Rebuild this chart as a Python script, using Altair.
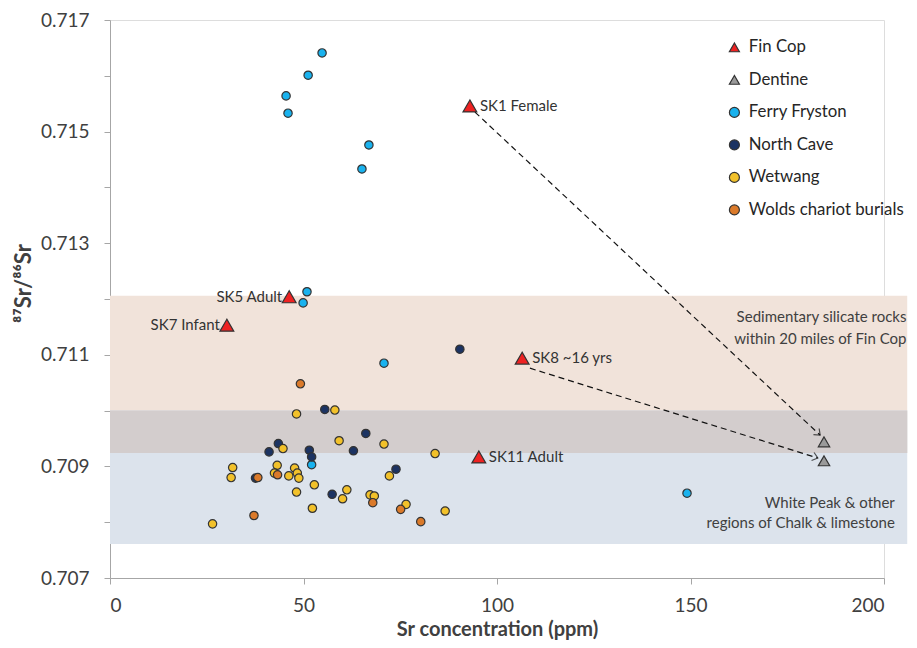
import math
import altair as alt
import pandas as pd

# ---------------- data ----------------
groups = ["Fin Cop", "Dentine", "Ferry Fryston", "North Cave", "Wetwang", "Wolds chariot burials"]
group_colors = ["#ee2222", "#9a9a9a", "#19b2ee", "#1c3362", "#f2c12a", "#db7a2a"]
group_shapes = ["triangle-up", "triangle-up", "circle", "circle", "circle", "circle"]

ferry_x = [54.8, 51.2, 45.5, 46.0, 66.9, 65.1, 50.9, 49.9, 70.8, 149.1, 52.1]
ferry_y = [0.71641, 0.71601, 0.71564, 0.71533, 0.71476, 0.71433, 0.71213, 0.71193, 0.71085, 0.70852, 0.70903]

ncave_x = [90.4, 55.5, 43.5, 41.1, 51.5, 52.1, 57.4, 66.1, 62.9, 73.9, 37.6]
ncave_y = [0.71110, 0.71002, 0.70941, 0.70926, 0.70929, 0.70917, 0.70850, 0.70959, 0.70928, 0.70895, 0.70879]

wet_x = [48.2, 58.1, 59.2, 44.7, 31.7, 31.3, 43.2, 42.5, 47.7, 46.2, 48.4, 48.8, 52.8,
         48.2, 52.3, 26.5, 70.8, 84.0, 72.2, 61.2, 60.1, 67.2, 68.3, 76.5, 86.6]
wet_y = [0.70994, 0.71001, 0.70946, 0.70932, 0.70898, 0.70880, 0.70902, 0.70888, 0.70897,
         0.70883, 0.70888, 0.70879, 0.70867, 0.70854, 0.70825, 0.70797, 0.70940, 0.70923,
         0.70883, 0.70858, 0.70842, 0.70849, 0.70847, 0.70832, 0.70820]

wolds_x = [49.2, 38.2, 43.3, 37.2, 67.9, 75.1, 80.3]
wolds_y = [0.71048, 0.70880, 0.70885, 0.70812, 0.70835, 0.70823, 0.70801]

fincop_names = ["SK1 Female", "SK5 Adult", "SK7 Infant", "SK8 ~16 yrs", "SK11 Adult"]
fincop_x = [93.0, 46.3, 30.2, 106.5, 95.3]
fincop_y = [0.71546, 0.71204, 0.71153, 0.71094, 0.70917]
labels_right = ["SK1 Female", "SK8 ~16 yrs", "SK11 Adult"]

dentine_x = [184.5, 184.5]
dentine_y = [0.70944, 0.70910]

# background bands: name, x range, y range
band_names = ["Sedimentary silicate", "Chalk & limestone", "overlap"]
band_x0 = [0, 0, 0]
band_x1 = [206, 206, 206]
band_y0 = [0.70924, 0.70761, 0.70924]
band_y1 = [0.71206, 0.71000, 0.71000]
band_colors = ["#f1e3da", "#dce3ec", "#d3cdcd"]

band_text = ["Sedimentary silicate rocks", "within 20 miles of Fin Cop",
             "White Peak & other", "regions of Chalk & limestone"]
band_text_x = [205.8, 205.8, 202.8, 202.8]
band_text_y = [0.71168, 0.71128, 0.70835, 0.70799]

# arrows from Fin Cop samples to their dentine values
arrow_x1 = [94.3, 108.5]
arrow_y1 = [0.71535, 0.71076]
arrow_x2 = [183.5, 182.9]
arrow_y2 = [0.70956, 0.70915]

# ---------------- layout ----------------
W, H = 774, 558
XMIN, XMAX = 0, 200
YMIN, YMAX = 0.707, 0.717
FONT = "Lato"
TXT = "#404040"

# ---------------- frames ----------------
rows = []
for g, xs, ys in [("Ferry Fryston", ferry_x, ferry_y), ("North Cave", ncave_x, ncave_y),
                  ("Wetwang", wet_x, wet_y), ("Wolds chariot burials", wolds_x, wolds_y),
                  ("Dentine", dentine_x, dentine_y)]:
    for x, y in zip(xs, ys):
        rows.append({"group": g, "sr": x, "ratio": y, "name": ""})
for n, x, y in zip(fincop_names, fincop_x, fincop_y):
    rows.append({"group": "Fin Cop", "sr": x, "ratio": y, "name": n})
pts = pd.DataFrame(rows)
pts["order"] = range(len(pts))
circ = pts[~pts["group"].isin(["Fin Cop", "Dentine"])]
fin = pts[pts["group"] == "Fin Cop"]
den = pts[pts["group"] == "Dentine"]

bands = pd.DataFrame({"band": band_names, "x0": band_x0, "x1": band_x1,
                      "y0": band_y0, "y1": band_y1})
btext = pd.DataFrame({"text": band_text, "x": band_text_x, "y": band_text_y})

sx = W / (XMAX - XMIN)
sy = H / (YMAX - YMIN)
angles = []
for x1, y1, x2, y2 in zip(arrow_x1, arrow_y1, arrow_x2, arrow_y2):
    a = math.degrees(math.atan2(-(y2 - y1) * sy, (x2 - x1) * sx)) % 360
    angles.append(a)
arrows = pd.DataFrame({"x1": arrow_x1, "y1": arrow_y1, "x2": arrow_x2, "y2": arrow_y2,
                       "angle": angles})

xscale = alt.Scale(domain=[XMIN, XMAX], nice=False, zero=False)
yscale = alt.Scale(domain=[YMIN, YMAX], nice=False, zero=False)

ytick_vals = [round(0.707 + 0.001 * i, 3) for i in range(11)]

xaxis = alt.Axis(values=[0, 50, 100, 150, 200], grid=False, title="Sr concentration (ppm)",
                 domainColor="#a6a6a6", tickColor="#a6a6a6", tickSize=6,
                 labelFontSize=19, labelColor=TXT, labelFont=FONT, labelPadding=12,
                 titleFont=FONT, titleFontSize=20, titleFontWeight="bold", titleColor=TXT,
                 titleY=57, titleBaseline="alphabetic")
yaxis = alt.Axis(values=ytick_vals, grid=False, title="⁸⁷Sr/⁸⁶Sr", format=".3f",
                 labelExpr="round(datum.value*1000) % 2 == 1 ? datum.label : ''",
                 domainColor="#a6a6a6", tickColor="#a6a6a6", tickSize=6,
                 labelFontSize=19, labelColor=TXT, labelFont=FONT, labelPadding=15,
                 titleFont=FONT, titleFontSize=22, titleFontWeight="bold", titleColor=TXT,
                 titleX=-87, titleY=263, titleAngle=270, titleAlign="center", titleBaseline="middle")

band_layer = alt.Chart(bands).mark_rect(opacity=1).encode(
    x=alt.X("x0:Q", scale=xscale, axis=xaxis),
    x2="x1:Q",
    y=alt.Y("y0:Q", scale=yscale, axis=yaxis),
    y2="y1:Q",
    color=alt.Color("band:N", scale=alt.Scale(domain=band_names, range=band_colors), legend=None),
)

band_text_layer = alt.Chart(btext).mark_text(align="right", baseline="middle", font=FONT,
                                             fontSize=15, color=TXT).encode(
    x=alt.X("x:Q", scale=xscale), y=alt.Y("y:Q", scale=yscale), text="text:N")

arrow_lines = alt.Chart(arrows).mark_rule(color="#111111", strokeWidth=1.2, strokeDash=[6, 4]).encode(
    x=alt.X("x1:Q", scale=xscale), y=alt.Y("y1:Q", scale=yscale), x2="x2:Q", y2="y2:Q")

arrow_heads = alt.Chart(arrows).mark_point(shape="M-1,-0.8L0,0L-1,0.8", filled=False,
                                           color="#111111", strokeWidth=1.2, size=110).encode(
    x=alt.X("x2:Q", scale=xscale), y=alt.Y("y2:Q", scale=yscale), angle=alt.Angle("angle:Q", scale=None))

fill_enc = alt.Fill("group:N", scale=alt.Scale(domain=groups, range=group_colors),
                    legend=alt.Legend(title=None, orient="none", legendX=616, legendY=19,
                                      labelFont=FONT, labelFontSize=16.8, labelColor="#262626",
                                      labelLimit=300,
                                      symbolSize=100, symbolStrokeWidth=1.2, symbolStrokeColor="#333333",
                                      rowPadding=14.5, labelOffset=6))
shape_enc = alt.Shape("group:N", scale=alt.Scale(domain=groups, range=group_shapes))


def point_layer(df, size):
    return alt.Chart(df).mark_point(filled=True, opacity=1, stroke="#333333", strokeWidth=1.2, size=size).encode(
        x=alt.X("sr:Q", scale=xscale), y=alt.Y("ratio:Q", scale=yscale),
        fill=fill_enc, shape=shape_enc, order=alt.Order("order:Q"))


circles = point_layer(circ, 70)
dentine = point_layer(den, 130)
fincop_pts = point_layer(fin, 190)

right_lab = alt.Chart(fin[fin["name"].isin(labels_right)]).mark_text(
    align="left", baseline="middle", dx=10, font=FONT, fontSize=15, color="#333333").encode(
    x=alt.X("sr:Q", scale=xscale), y=alt.Y("ratio:Q", scale=yscale), text="name:N")
left_lab = alt.Chart(fin[~fin["name"].isin(labels_right)]).mark_text(
    align="right", baseline="middle", dx=-7, font=FONT, fontSize=15, color="#333333").encode(
    x=alt.X("sr:Q", scale=xscale), y=alt.Y("ratio:Q", scale=yscale), text="name:N")

chart = alt.layer(band_layer, band_text_layer, circles, dentine, fincop_pts, arrow_lines, arrow_heads,
                  right_lab, left_lab).properties(
    width=W, height=H,
    autosize=alt.AutoSizeParams(type="none"),
    padding={"left": 102, "top": 12, "right": 25, "bottom": 62},
).configure_view(stroke=None).configure(background="white")

chart.save("out.html", embed_options={"renderer": "svg", "actions": False})
